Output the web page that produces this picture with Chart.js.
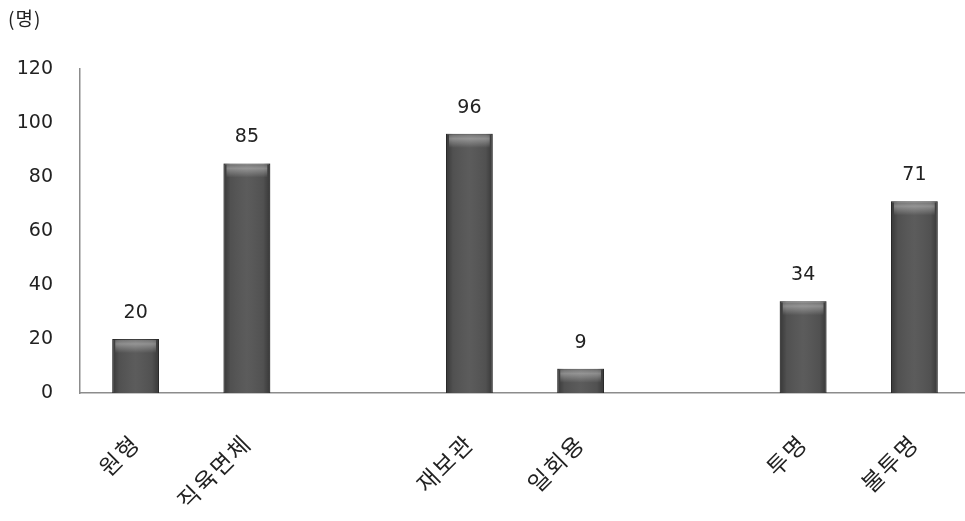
<!DOCTYPE html>
<html>
<head>
<meta charset="utf-8">
<script src="https://cdn.jsdelivr.net/npm/chart.js@4"></script>
<style>
  html, body { margin: 0; padding: 0; background: #fff; overflow: hidden; }
  #wrap { position: relative; width: 975px; height: 521px; }
  #unit { position: absolute; left: 8px; top: 4px; font: 19px "Noto Sans CJK KR", sans-serif; color: #222; letter-spacing: 1px; }
</style>
</head>
<body>
<div id="wrap">
  <div id="unit">(명)</div>
  <canvas id="chart" width="975" height="521"></canvas>
</div>
<script>
// ---- data ----
const categories = ['원형', '직육면체', '', '재보관', '일회용', '', '투명', '불투명'];
const counts = [20, 85, null, 96, 9, null, 34, 71];
const yTicks = [0, 20, 40, 60, 80, 100, 120];

const KFONT = '"Noto Sans CJK KR", sans-serif';
const NFONT = '"DejaVu Sans", sans-serif';

// korean category names are set a little loose in the original
const looseLabels = {
    id: 'looseLabels',
    beforeDraw(chart) {
        const xs = chart.scales.x;
        if (xs._loose) return;
        const orig = xs.drawLabels;
        xs.drawLabels = function (area) {
            chart.ctx.letterSpacing = '2px';
            orig.call(this, area);
            chart.ctx.letterSpacing = '0px';
        };
        xs._loose = true;
    }
};

// shading on the bars + value labels above them
const barLook = {
    id: 'barLook',
    afterDatasetsDraw(chart) {
        const ctx = chart.ctx;
        const meta = chart.getDatasetMeta(0);
        meta.data.forEach((bar, i) => {
            if (counts[i] == null) return;
            const half = bar.width / 2;
            const left = bar.x - half, top = bar.y, h = bar.base - bar.y;
            ctx.save();
            // darker edges left / right
            let g = ctx.createLinearGradient(left, 0, left + bar.width, 0);
            g.addColorStop(0, 'rgba(0,0,0,0.35)');
            g.addColorStop(0.15, 'rgba(0,0,0,0.05)');
            g.addColorStop(0.5, 'rgba(255,255,255,0.04)');
            g.addColorStop(0.85, 'rgba(0,0,0,0.05)');
            g.addColorStop(1, 'rgba(0,0,0,0.35)');
            ctx.fillStyle = g;
            ctx.fillRect(left, top, bar.width, h);
            // light band near the top
            const hl = Math.min(14, h);
            g = ctx.createLinearGradient(0, top, 0, top + hl);
            g.addColorStop(0, 'rgba(255,255,255,0.15)');
            g.addColorStop(0.35, 'rgba(255,255,255,0.35)');
            g.addColorStop(1, 'rgba(255,255,255,0)');
            ctx.fillStyle = g;
            ctx.fillRect(left + 3, top + 1, bar.width - 6, hl);
            ctx.restore();

            ctx.save();
            ctx.font = '19px ' + NFONT;
            ctx.fillStyle = '#222';
            ctx.textAlign = 'center';
            ctx.textBaseline = 'middle';
            ctx.fillText(String(counts[i]), bar.x, bar.y - 26);
            ctx.restore();
        });
    }
};

new Chart(document.getElementById('chart'), {
    type: 'bar',
    data: {
        labels: categories,
        datasets: [{
            data: counts,
            backgroundColor: '#555555',
            borderColor: '#3a3a3a',
            borderWidth: 1,
            barPercentage: 0.42,
            categoryPercentage: 1
        }]
    },
    options: {
        responsive: false,
        animation: false,
        layout: { padding: { top: 69, right: 5, left: 0, bottom: 0 } },
        plugins: { legend: { display: false }, tooltip: { enabled: false } },
        scales: {
            x: {
                grid: { display: false, drawTicks: false },
                border: { color: '#8c8c8c', width: 1.5 },
                ticks: {
                    color: '#222',
                    font: { family: KFONT, size: 23 },
                    minRotation: 45,
                    maxRotation: 45,
                    padding: 36,
                    autoSkip: false
                },
                afterFit(scale) { scale.height = 128; }
            },
            y: {
                min: 0,
                max: 120,
                afterBuildTicks(scale) { scale.ticks = yTicks.map(v => ({ value: v })); },
                grid: { display: false, drawTicks: false },
                border: { color: '#8c8c8c', width: 1.5 },
                ticks: {
                    color: '#222',
                    font: { family: NFONT, size: 19 },
                    padding: 27
                },
                afterFit(scale) { scale.width = 80; }
            }
        }
    },
    plugins: [looseLabels, barLook]
});
</script>
</body>
</html>
